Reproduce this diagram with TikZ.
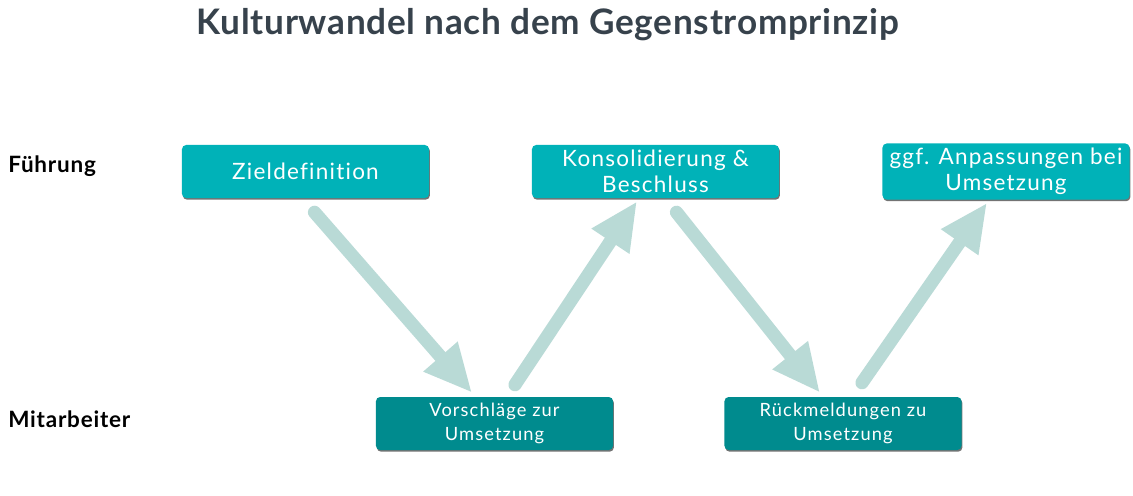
\documentclass[tikz,border=0pt]{standalone}
\usepackage{fontspec}
\setmainfont{Lato}
\usepackage{tikz}
\usetikzlibrary{calc}
\usetikzlibrary{arrows.meta}
\usetikzlibrary{shadows}
\definecolor{topteal}{HTML}{00B2B8}
\definecolor{lowteal}{HTML}{008B8E}
\definecolor{flowgreen}{HTML}{B9DAD6}
\definecolor{titlegray}{HTML}{37424C}
\tikzstyle{lead} = [rounded corners=3pt, fill=topteal, text=white, minimum width=6.175cm, minimum height=1.325cm, align=center, font=\fontsize{16}{18.5}\selectfont\addfontfeatures{LetterSpace=5.5, Ligatures=NoCommon}, drop shadow={shadow xshift=0.6pt, shadow yshift=-1.2pt, fill=black!55, opacity=1}]
\tikzstyle{staff} = [lead, fill=lowteal, minimum width=5.925cm, font=\fontsize{13}{17}\selectfont\addfontfeatures{LetterSpace=6}]
\tikzstyle{level} = [anchor=west, inner sep=0, font=\bfseries\fontsize{16}{19}\selectfont\addfontfeatures{LetterSpace=3.5}]
\tikzstyle{flow} = [draw=flowgreen, line width=0.33cm, line cap=round, -{Triangle[width=1.05cm, length=1.2cm]}]

\begin{document}
\begin{tikzpicture}[x=0.025cm, y=-0.025cm]
\useasboundingbox (0,0) rectangle (1133,495);
\node [text=titlegray, font=\bfseries\fontsize{25}{28}\selectfont\addfontfeatures{LetterSpace=2}] (title) at (548, 25) {Kulturwandel nach dem Gegenstromprinzip};
\node [level] (fuehrung) at (8, 166) {Führung};
\node [level] (mitarb) at (8, 419) {Mitarbeiter};
\node [lead] (ziel) at (305.5, 171.5) {Zieldefinition};
\node [lead] (konsol) at (655.5, 171.5) {Konsolidierung \&\\Beschluss};
\node [lead] (anpass) at (1006, 171.5) {ggf. Anpassungen bei\\Umsetzung};
\node [staff] (vorschlag) at (494.5, 423.5) {Vorschläge zur\\Umsetzung};
\node [staff] (rueck) at (843, 423.5) {Rückmeldungen zu\\Umsetzung};
\draw [flow] ($(ziel.south)+(9,14)$) to ($(vorschlag.north)+(-22.5,-4)$);
\draw [flow] ($(vorschlag.north)+(20.5,-12)$) to ($(konsol.south)+(-18.5,3)$);
\draw [flow] ($(konsol.south)+(21,14)$) to ($(rueck.north)+(-23,-4)$);
\draw [flow] ($(rueck.north)+(19,-14)$) to ($(anpass.south)+(-19,3)$);
\end{tikzpicture}
\end{document}
